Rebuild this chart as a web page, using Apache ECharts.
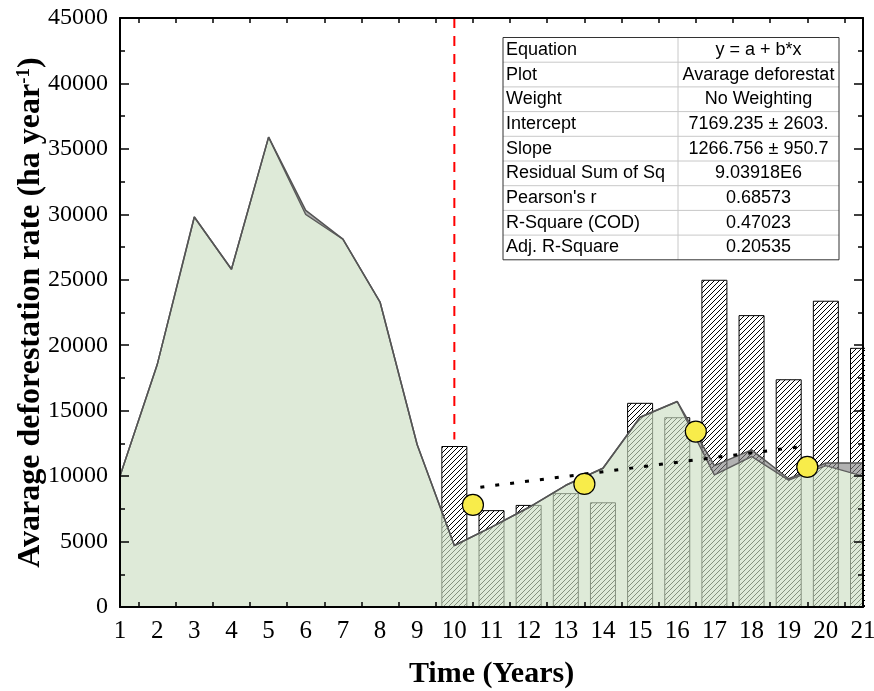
<!DOCTYPE html>
<html lang="en" style="width: 100%; height: 100%">
<head>
  <meta charset="utf-8">
  <script src="https://cdn.jsdelivr.net/npm/echarts@6/dist/echarts.min.js"></script>
</head>
<body style="margin: 0; width: 874px; height: 691px; background: #fff">
  <div id="container" style="width: 874px; height: 691px"></div>
  <script type="text/javascript">

// ---- data ----
var years = [1, 2, 3, 4, 5, 6, 7, 8, 9, 10, 11, 12, 13, 14, 15, 16, 17, 18, 19, 20, 21];
var avgRate = [10000, 18500, 29800, 25800, 35900, 30000, 28100, 23300, 12400, 4700, 6100,
               7600, 9300, 10600, 14500, 15700, 10100, 11500, 9700, 10800, 10000];
var upperRate = [10000, 18500, 29800, 25800, 35900, 30300, 28100, 23300, 12400, 4700, 6100,
                 7600, 9300, 10600, 14500, 15700, 10800, 12000, 9800, 11000, 11000];
var barYears = [10, 11, 12, 13, 14, 15, 16, 17, 18, 19, 20, 21];
var barRate = [12300, 7400, 7800, 8700, 8000, 15600, 14500, 25000, 22300, 17400, 23400, 19800];
var pointYears = [10.5, 13.5, 16.5, 19.5];
var pointRate = [7800, 9400, 13400, 10700];
var fitYears = [10.7, 19.46];
var fitRate = [9150, 12300];
var breakYear = 10;
var breakRange = [45000, 12800];
// x ticks sit half way between the year labels
var xTickValues = [1.5, 2.5, 3.5, 4.5, 5.5, 6.5, 7.5, 8.5, 9.5, 10.5,
                   11.5, 12.5, 13.5, 14.5, 15.5, 16.5, 17.5, 18.5, 19.5, 20.5];

var tableRows = ['Equation', 'Plot', 'Weight', 'Intercept', 'Slope', 'Residual Sum of Sq',
                 "Pearson's r", 'R-Square (COD)', 'Adj. R-Square'];
var tableVals = ['y = a + b*x', 'Avarage deforestat', 'No Weighting', '7169.235 \u00b1 2603.',
                 '1266.756 \u00b1 950.7', '9.03918E6', '0.68573', '0.47023', '0.20535'];

var dom = document.getElementById('container');
var myChart = echarts.init(dom, null, { renderer: 'canvas' });

// hatch pattern for bars
var hatch = document.createElement('canvas');
hatch.width = 5;
hatch.height = 5;
var hc = hatch.getContext('2d');
hc.fillStyle = '#fff';
hc.fillRect(0, 0, 5, 5);
hc.strokeStyle = '#000';
hc.lineWidth = 1;
hc.beginPath();
hc.moveTo(-1, 6); hc.lineTo(6, -1);
hc.moveTo(-1, 1); hc.lineTo(1, -1);
hc.moveTo(4, 6); hc.lineTo(6, 4);
hc.stroke();

var serif = 'Liberation Serif';
var sans = 'Liberation Sans';

var zip = function (xs, ys) {
  return xs.map(function (x, i) { return [x, ys[i]]; });
};

// table drawn as graphic elements
var tx = 503, ty = 37.5, tw = 336, rowH = 24.7, colX = 678;
var tableEls = [{
  // mask so the last bar is cut at the right frame, like the original
  type: 'rect', z: 50,
  shape: { x: 865, y: 0, width: 20, height: 691 },
  style: { fill: '#fff' }
}, {
  type: 'rect', z: 99,
  shape: { x: tx, y: ty, width: tw, height: rowH * tableRows.length },
  style: { fill: '#fff' }
}];
for (var i = 1; i < tableRows.length; i++) {
  tableEls.push({
    type: 'line', z: 100,
    shape: { x1: tx, y1: ty + i * rowH, x2: tx + tw, y2: ty + i * rowH },
    style: { stroke: '#c8c8c8', lineWidth: 1 }
  });
}
tableEls.push({
  type: 'line', z: 100,
  shape: { x1: colX, y1: ty, x2: colX, y2: ty + rowH * tableRows.length },
  style: { stroke: '#c8c8c8', lineWidth: 1 }
});
tableEls.push({
  type: 'rect', z: 101,
  shape: { x: tx, y: ty, width: tw, height: rowH * tableRows.length },
  style: { fill: 'none', stroke: '#333', lineWidth: 1 }
});
tableRows.forEach(function (name, i) {
  var cy = ty + (i + 0.5) * rowH;
  tableEls.push({
    type: 'text', z: 102, x: tx + 3, y: cy,
    style: { text: name, fontFamily: sans, fontSize: 18, fill: '#000',
             align: 'left', verticalAlign: 'middle' }
  });
  tableEls.push({
    type: 'text', z: 102, x: (colX + tx + tw) / 2, y: cy,
    style: { text: tableVals[i], fontFamily: sans, fontSize: 18, fill: '#000',
             align: 'center', verticalAlign: 'middle' }
  });
});

var xTick = { show: true, inside: true, length: 5, customValues: xTickValues,
              lineStyle: { color: '#000', width: 1.5 } };
var yTick = { show: true, inside: true, length: 9, lineStyle: { color: '#000', width: 1.5 } };
var yMinor = { show: true, splitNumber: 2, length: 5, lineStyle: { color: '#000', width: 1.5 } };
var axisLine = { show: true, onZero: false, lineStyle: { color: '#000', width: 2 } };
var plain = function (v) { return String(v); };

var option = {
  animation: false,
  backgroundColor: '#fff',
  grid: { left: 120, right: 11, top: 18, bottom: 84, outerBoundsMode: 'none' },
  xAxis: [{
    type: 'value', min: 1, max: 21, interval: 1, z: 60,
    axisLine: axisLine,
    axisTick: xTick,
    splitLine: { show: false },
    axisLabel: { fontFamily: serif, fontSize: 25, color: '#000', margin: 12,
                 showMinLabel: true, showMaxLabel: true, formatter: plain },
    name: 'Time (Years)',
    nameLocation: 'middle',
    nameGap: 52,
    nameMoveOverlap: false,
    nameTextStyle: { fontFamily: serif, fontSize: 30, fontWeight: 'bold', color: '#000' }
  }, {
    type: 'value', min: 1, max: 21, interval: 1, position: 'top', z: 60,
    axisLine: axisLine,
    axisTick: xTick,
    splitLine: { show: false },
    axisLabel: { show: false }
  }, {
    // hidden category axis for the stacked areas (same span as the value axis)
    type: 'category', data: years, boundaryGap: false, show: false
  }],
  yAxis: [{
    type: 'value', min: 0, max: 45000, interval: 5000, z: 60,
    axisLine: axisLine,
    axisTick: yTick,
    minorTick: yMinor,
    splitLine: { show: false },
    axisLabel: { fontFamily: serif, fontSize: 24, color: '#000', margin: 12, formatter: plain },
    name: '{t|Avarage deforestation rate (ha year}{s|-1}{t|)}',
    nameLocation: 'middle',
    nameGap: 73,
    nameMoveOverlap: false,
    nameTextStyle: {
      rich: {
        t: { fontFamily: serif, fontSize: 32, fontWeight: 'bold', color: '#000' },
        s: { fontFamily: serif, fontSize: 19, fontWeight: 'bold', color: '#000', verticalAlign: 'top' }
      }
    }
  }, {
    type: 'value', min: 0, max: 45000, interval: 5000, position: 'right', z: 60,
    axisLine: axisLine,
    axisTick: yTick,
    minorTick: yMinor,
    splitLine: { show: false },
    axisLabel: { show: false }
  }],
  graphic: tableEls,
  series: [{
    type: 'bar',
    z: 1,
    data: zip(barYears, barRate),
    barWidth: 26,
    itemStyle: { color: { image: hatch, repeat: 'repeat' }, borderColor: '#000', borderWidth: 1 }
  }, {
    type: 'line',
    z: 2,
    xAxisIndex: 2,
    stack: 'rate',
    data: avgRate,
    symbol: 'none',
    lineStyle: { color: '#555', width: 1.5 },
    areaStyle: { color: 'rgba(205,222,195,0.93)' }
  }, {
    type: 'line',
    z: 3,
    xAxisIndex: 2,
    stack: 'rate',
    data: years.map(function (y, i) { return upperRate[i] - avgRate[i]; }),
    symbol: 'none',
    lineStyle: { color: '#555', width: 1.5 },
    areaStyle: { color: 'rgba(125,125,125,0.85)' }
  }, {
    type: 'line',
    z: 4,
    data: zip([breakYear, breakYear], breakRange),
    symbol: 'none',
    lineStyle: { color: '#ff0000', width: 2, type: [10, 8] }
  }, {
    type: 'line',
    z: 4,
    data: zip(fitYears, fitRate),
    symbol: 'none',
    lineStyle: { color: '#000', width: 3, type: [4, 11] }
  }, {
    type: 'scatter',
    z: 5,
    data: zip(pointYears, pointRate),
    symbol: 'circle',
    symbolSize: 21,
    itemStyle: { color: '#f8ec4a', borderColor: '#000', borderWidth: 1.2, opacity: 1 }
  }]
};

myChart.setOption(option);
window.addEventListener('resize', myChart.resize);

  </script>
</body>
</html>
